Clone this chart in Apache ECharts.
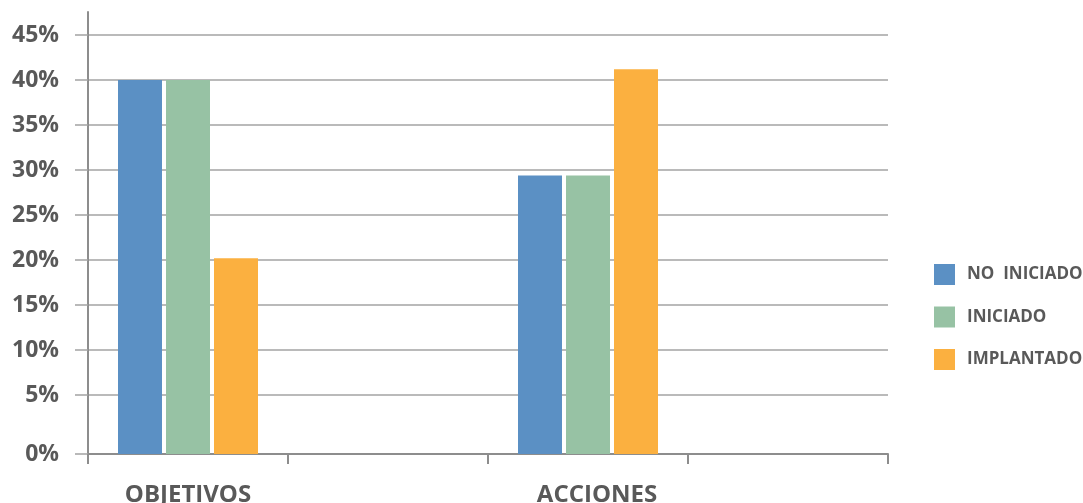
<!DOCTYPE html>
<html>
<head>
<meta charset="utf-8">
<script src="https://cdn.jsdelivr.net/npm/echarts@6/dist/echarts.min.js"></script>
<style>
  html, body { margin: 0; padding: 0; background: #ffffff; }
  #chart { width: 1083px; height: 503px; }
</style>
</head>
<body>
<div id="chart"></div>
<script>
// Categories along the x axis (two empty slots keep the original spacing)
const categories = ['OBJETIVOS', '', 'ACCIONES', ''];

// Shares per status, in percent
const noIniciado = [40, null, 29.4, null];
const iniciado   = [40, null, 29.4, null];
const implantado = [20.2, null, 41.2, null];

const seriesNames = ['NO  INICIADO', 'INICIADO', 'IMPLANTADO'];

// Y tick labels (percent)
const yTicks = [0, 5, 10, 15, 20, 25, 30, 35, 40, 45];

// The axis floor sits a little below the 0 line; bars rest on the floor
const AXIS_FLOOR = -14 / 9;
const AXIS_TOP = 45 + 23 / 9;

const COLORS = ['#5b90c4', '#97c2a4', '#fbb040'];
const TEXT = '#595959';
const GRID = '#a3a3a3';
const AXIS = '#8d8d8d';
const FONT = '"Open Sans", "Liberation Sans", sans-serif';

const BAR_W = 44;
const BAR_GAP = 4;

const tickValues = yTicks.map(v => (v === 0 ? AXIS_FLOOR : v));

function makeSeries(name, values, k) {
  return {
    name: name,
    type: 'custom',
    itemStyle: { color: COLORS[k] },
    encode: { x: 0, y: 1 },
    data: values.map((v, i) => [i, v]),
    renderItem: function (params, api) {
      const v = api.value(1);
      if (v == null || isNaN(v)) return null;
      const top = api.coord([api.value(0), v]);
      const base = api.coord([api.value(0), AXIS_FLOOR]);
      const x = top[0] + (k - 1) * (BAR_W + BAR_GAP) - BAR_W / 2;
      return {
        type: 'rect',
        shape: { x: x, y: top[1], width: BAR_W, height: base[1] - top[1] },
        style: { fill: COLORS[k] }
      };
    }
  };
}

const chart = echarts.init(document.getElementById('chart'), null, { renderer: 'canvas' });

chart.setOption({
  animation: false,
  backgroundColor: '#ffffff',
  grid: {
    left: 88, right: 195, top: 12, bottom: 49,
    containLabel: false,
    outerBoundsMode: 'none'
  },
  legend: {
    orient: 'vertical',
    left: 934,
    top: 264,
    padding: 0,
    itemWidth: 21,
    itemHeight: 21,
    itemGap: 21.5,
    icon: 'rect',
    data: seriesNames,
    textStyle: {
      color: TEXT,
      fontFamily: FONT,
      fontWeight: 'bold',
      fontSize: 17,
      padding: [0, 0, 0, 7]
    }
  },
  xAxis: {
    type: 'category',
    data: categories,
    boundaryGap: true,
    axisLine: { onZero: false, lineStyle: { color: AXIS, width: 2 } },
    axisTick: { show: true, length: 10, lineStyle: { color: AXIS, width: 2 } },
    axisLabel: {
      color: TEXT,
      fontFamily: FONT,
      fontWeight: 'bold',
      fontSize: 24,
      margin: 29,
      interval: 0,
      formatter: function (v) {
        return v === 'ACCIONES' ? '{r|' + v + '}' : v;
      },
      rich: {
        r: {
          color: TEXT,
          fontFamily: FONT,
          fontWeight: 'bold',
          fontSize: 24,
          padding: [0, 0, 0, 18]
        }
      }
    },
    splitLine: { show: false }
  },
  yAxis: {
    type: 'value',
    min: AXIS_FLOOR,
    max: AXIS_TOP,
    axisLine: { show: true, lineStyle: { color: AXIS, width: 2 } },
    axisTick: {
      show: true,
      inside: false,
      length: 13,
      customValues: tickValues,
      lineStyle: { color: GRID, width: 1.5 }
    },
    axisLabel: {
      customValues: tickValues,
      color: TEXT,
      fontFamily: FONT,
      fontWeight: 'bold',
      fontSize: 23,
      margin: 29,
      formatter: function (v) {
        return (v < 0 ? 0 : Math.round(v)) + '%';
      }
    },
    splitLine: { show: true, lineStyle: { color: GRID, width: 1.5 } }
  },
  series: [
    makeSeries(seriesNames[0], noIniciado, 0),
    makeSeries(seriesNames[1], iniciado, 1),
    makeSeries(seriesNames[2], implantado, 2)
  ]
});
</script>
</body>
</html>
